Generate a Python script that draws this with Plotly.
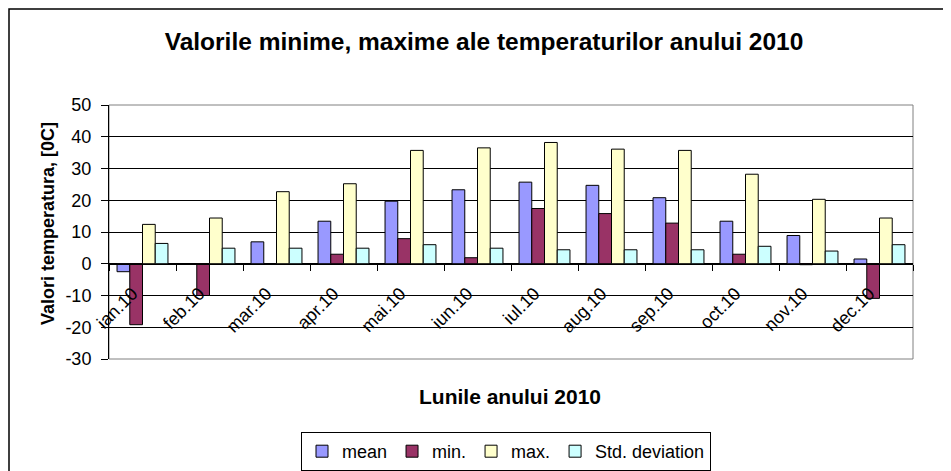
import plotly.graph_objects as go

# Lunile anului 2010
luni = ["ian.10", "feb.10", "mar.10", "apr.10", "mai.10", "iun.10",
        "iul.10", "aug.10", "sep.10", "oct.10", "nov.10", "dec.10"]

mean_vals = [-2.5, 0.0, 6.9, 13.4, 19.7, 23.3, 25.7, 24.7, 20.8, 13.4, 8.9, 1.5]
min_vals = [-19.2, -10.0, 0.0, 3.0, 7.9, 1.9, 17.4, 15.8, 12.8, 3.0, -0.3, -10.9]
max_vals = [12.4, 14.4, 22.7, 25.2, 35.7, 36.5, 38.2, 36.1, 35.7, 28.2, 20.3, 14.4]
std_vals = [6.4, 4.9, 4.9, 4.9, 6.0, 4.9, 4.4, 4.4, 4.4, 5.5, 4.0, 6.0]

y_ticks = [-30, -20, -10, 0, 10, 20, 30, 40, 50]
y_ticktext = ["-30", "-20", "-10", "0", "10", "20", "30", "40", "50"]

FONT = "Liberation Sans, Arial, sans-serif"

serii = [
    ("mean", mean_vals, "#9999FF"),
    ("min.", min_vals, "#993366"),
    ("max.", max_vals, "#FFFFCC"),
    ("Std. deviation", std_vals, "#CCFFFF"),
]

# pagina are o margine de 8px in jurul figurii
OFF = 8
FW, FH = 951 - OFF, 471 - OFF
# zona graficului, in pixeli de pagina: x 109..913, y 105..359
L, R, T, B = 109, 913, 105, 359
W, H = R - L, B - T


def px_x(x):
    return (x - L) / W


def px_y(y):
    return (B - y) / H


fig = go.Figure()
for nume, vals, culoare in serii:
    fig.add_trace(go.Bar(
        x=luni,
        y=vals,
        name=nume,
        marker=dict(color=culoare, line=dict(color="black", width=1)),
    ))

fig.update_layout(
    width=FW,
    height=FH,
    margin=dict(l=L - OFF, r=FW - (R - OFF), t=T - OFF, b=FH - (B - OFF), autoexpand=False),
    paper_bgcolor="white",
    plot_bgcolor="white",
    font=dict(family=FONT, size=18, color="black"),
    barmode="group",
    bargap=0.24,
    bargroupgap=0,
    title=dict(
        text="<b>Valorile minime, maxime ale temperaturilor anului 2010</b>",
        x=(484 - OFF) / FW, xanchor="center",
        y=1 - (41 - OFF) / FH, yanchor="middle",
        font=dict(family=FONT, size=24.5, color="black"),
    ),
    showlegend=True,
    legend=dict(
        orientation="h",
        x=px_x(506), xanchor="center",
        y=px_y(432), yanchor="top",
        bordercolor="black", borderwidth=1,
        bgcolor="white",
        font=dict(family=FONT, size=18),
        itemwidth=30,
        traceorder="normal",
    ),
    xaxis=dict(
        type="category",
        anchor="free",
        position=px_y(264),
        automargin=False,
        showline=True, linecolor="black", linewidth=1,
        ticks="outside", ticklen=6, tickcolor="black",
        tickson="boundaries",
        tickangle=-45,
        ticklabelstandoff=11,
        ticklabelshift=-10,
        showgrid=False,
        zeroline=False,
        tickfont=dict(family=FONT, size=18),
    ),
    yaxis=dict(
        range=[-30, 50],
        tickvals=y_ticks,
        ticktext=y_ticktext,
        automargin=False,
        showline=True, linecolor="black", linewidth=1,
        ticks="outside", ticklen=7, tickcolor="black",
        ticklabelstandoff=6,
        showgrid=True, gridcolor="black", gridwidth=1,
        zeroline=False,
        tickfont=dict(family=FONT, size=18),
    ),
)

# chenarul zonei graficului
fig.add_shape(type="rect", xref="paper", yref="paper", x0=0, y0=0, x1=1, y1=1,
              line=dict(color="#808080", width=1), layer="below")
# chenarul exterior
fig.add_shape(type="rect", xref="paper", yref="paper",
              x0=px_x(9), y0=px_y(480), x1=px_x(960), y1=px_y(9),
              line=dict(color="black", width=1.5))

fig.add_annotation(text="<b>Valori temperatura, [0C]</b>", xref="paper", yref="paper",
                   x=px_x(48), y=px_y(224), textangle=-90, showarrow=False,
                   xanchor="center", yanchor="middle", font=dict(family=FONT, size=18))
fig.add_annotation(text="<b>Lunile anului 2010</b>", xref="paper", yref="paper",
                   x=px_x(510), y=px_y(396), showarrow=False,
                   xanchor="center", yanchor="middle", font=dict(family=FONT, size=21))

fig.write_html("out.html")
